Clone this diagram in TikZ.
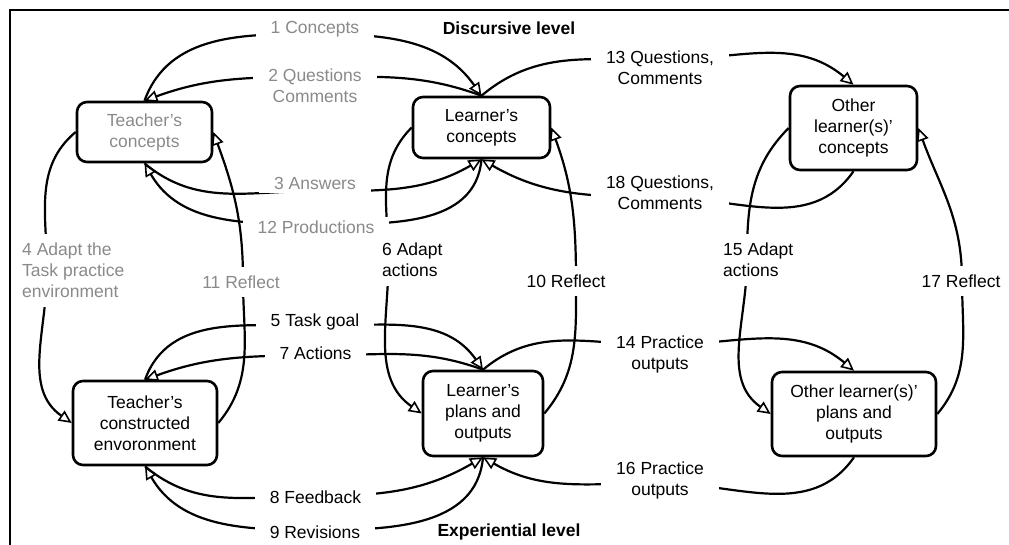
\documentclass[tikz,border=0pt]{standalone}
\usepackage{fontspec}
\setmainfont{Liberation Sans}
\usetikzlibrary{arrows.meta,backgrounds}
\definecolor{greytxt}{RGB}{138,138,138}
\newcommand\diafont{\fontsize{17.5}{21}\selectfont}

\begin{document}
\begin{tikzpicture}[x=1pt,y=1pt,
  every node/.style={font=\diafont},
  stage/.style={draw,line width=2.6pt,rounded corners=10pt,align=center,inner sep=0pt},
  hlab/.style={fill=white,align=center,inner xsep=15pt,inner ysep=4pt},
  vlab/.style={fill=white,inner xsep=3pt,inner ysep=9pt},
  conn/.style={line width=2.2pt},
  arr/.style={-{Triangle[open,length=13pt,width=12pt,line width=1.6pt]}}]
  \useasboundingbox (0,0) rectangle (1009,545);
  \node[stage,text=greytxt,minimum width=135pt,minimum height=60pt] (tc) at (144.5,413) {Teacher's\\concepts};
  \node[stage,minimum width=137pt,minimum height=61pt] (lc) at (481.5,417.5) {Learner's\\concepts};
  \node[stage,minimum width=127pt,minimum height=84pt] (oc) at (853.5,417) {Other\\learner(s)'\\concepts};
  \node[stage,minimum width=144pt,minimum height=84pt] (te) at (145,122) {Teacher's\\constructed\\envoronment};
  \node[stage,minimum width=120pt,minimum height=85pt] (lp) at (483,131.5) {Learner's\\plans and\\outputs};
  \node[stage,minimum width=164pt,minimum height=84pt] (op) at (854,131) {Other learner(s)'\\plans and\\outputs};

  \node[font=\diafont\bfseries] (dis) at (509,517) {Discursive level};
  \node[font=\diafont\bfseries] (exp) at (509,13) {Experiential level};

  \node[hlab,text=greytxt] (c1) at (315,516) {1 Concepts};
  \node[hlab,text=greytxt] (q2) at (315,459.5) {2 Questions\\Comments};
  \node[hlab,text=greytxt] (a3) at (315,362) {3 Answers};
  \node[hlab,text=greytxt] (p12) at (316,318) {12 Productions};
  \node[vlab,text=greytxt,align=left,anchor=west] (a4) at (19,274.5) {4 Adapt the\\Task practice\\environment};
  \node[vlab,text=greytxt] (r11) at (241,263) {11 Reflect};
  \node[vlab,align=left,anchor=west] (a6) at (379,285) {6 Adapt\\actions};
  \node[vlab] (r10) at (566,264) {10 Reflect};
  \node[hlab] (q13) at (660,477.5) {13 Questions,\\Comments};
  \node[hlab] (q18) at (660,352.5) {18 Questions,\\Comments};
  \node[vlab,align=left,anchor=west] (a15) at (720,285) {15 Adapt\\actions};
  \node[vlab] (r17) at (961,264) {17 Reflect};
  \node[hlab] (t5) at (315,223) {5 Task goal};
  \node[hlab] (a7) at (315.5,192) {7 Actions};
  \node[hlab] (p14) at (660,190.5) {14 Practice\\outputs};
  \node[hlab] (p16) at (660,64.5) {16 Practice\\outputs};
  \node[hlab] (f8) at (315.5,48) {8 Feedback};
  \node[hlab] (r9) at (315,13) {9 Revisions};

  \begin{pgfonlayer}{background}
  \draw[conn,arr] (tc.north) to[out=70,in=180] ([yshift=-5pt]c1.center) to[out=0,in=125] (lc.north);
  \draw[conn,arr] (lc.north) to[out=160,in=0] ([yshift=8.5pt]q2.center) to[out=180,in=20] (tc.north);
  \draw[conn,arr] (tc.south) to[out=-40,in=180] ([yshift=-8pt]a3.center) to[out=0,in=-150] (lc.south);
  \draw[conn,arr] (lc.south) to[out=-95,in=0] ([yshift=3pt]p12.center) to[out=180,in=-60] (tc.south);
  \draw[conn,arr] (tc.west) to[out=220,in=90] ([xshift=28pt]a4.west) to[out=-90,in=145] (te.west);
  \draw[conn,arr] (te.east) to[out=50,in=-90] ([xshift=2pt,yshift=2pt]r11.center) to[out=90,in=-70] (tc.east);
  \draw[conn,arr] (lc.west) to[out=225,in=90] ([xshift=9.5pt]a6.west) to[out=-90,in=145] (lp.west);
  \draw[conn,arr] (lp.east) to[out=50,in=-90] ([xshift=10pt,yshift=1pt]r10.center) to[out=90,in=-70] (lc.east);
  \draw[conn,arr] (lc.north) to[out=40,in=180] ([yshift=7.5pt]q13.center) to[out=0,in=140] (oc.north);
  \draw[conn,arr] (oc.south) to[out=235,in=0] ([yshift=-4.5pt]q18.center) to[out=180,in=-30] (lc.south);
  \draw[conn,arr] (oc.west) to[out=225,in=90] ([xshift=27pt]a15.west) to[out=-90,in=145] (op.west);
  \draw[conn,arr] (op.east) to[out=50,in=-90] ([xshift=1pt,yshift=1pt]r17.center) to[out=90,in=-70] (oc.east);
  \draw[conn,arr] (te.north) to[out=70,in=180] ([yshift=-4pt]t5.center) to[out=0,in=125] (lp.north);
  \draw[conn,arr] (lp.north) to[out=160,in=0] ([yshift=-2.5pt]a7.center) to[out=180,in=20] (te.north);
  \draw[conn,arr] (lp.north) to[out=40,in=180] ([yshift=9.5pt]p14.center) to[out=0,in=140] (op.north);
  \draw[conn,arr] (op.south) to[out=235,in=0] ([yshift=-2.5pt]p16.center) to[out=180,in=-30] (lp.south);
  \draw[conn,arr] (te.south) to[out=-40,in=180] ([yshift=1pt]f8.center) to[out=0,in=-150] (lp.south);
  \draw[conn,arr] (lp.south) to[out=-95,in=0] ([yshift=2pt]r9.center) to[out=180,in=-60] (te.south);
  \end{pgfonlayer}

  \draw[line width=2pt] (9.5,0) -- (9.5,535) -- (1009,535);
\end{tikzpicture}
\end{document}
